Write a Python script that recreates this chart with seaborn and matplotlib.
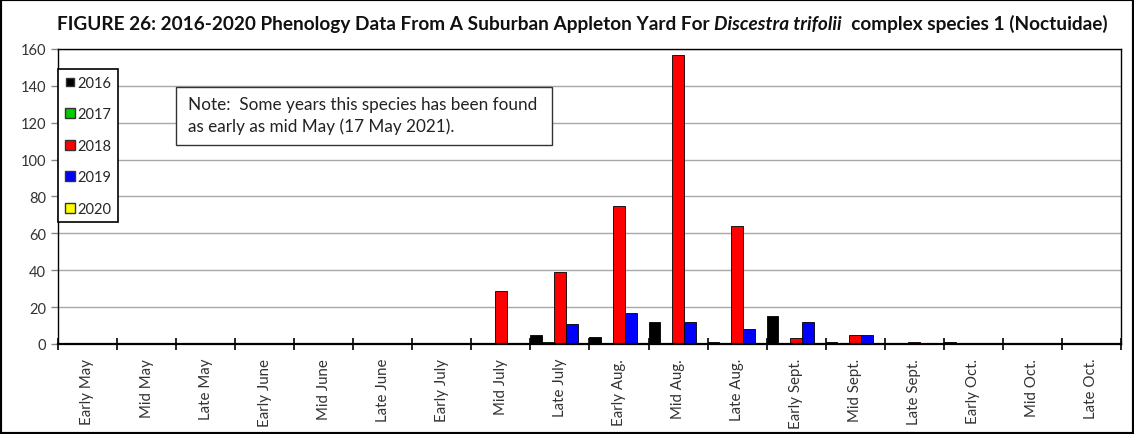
import matplotlib
matplotlib.use("Agg")
import matplotlib.pyplot as plt
import numpy as np
import pandas as pd
import seaborn as sns
from matplotlib.lines import Line2D
from matplotlib.patches import Rectangle

# ---- data ----
periods = [
    "Early May", "Mid May", "Late May", "Early June", "Mid June", "Late June",
    "Early July", "Mid July", "Late July", "Early Aug.", "Mid Aug.", "Late Aug.",
    "Early Sept.", "Mid Sept.", "Late Sept.", "Early Oct.", "Mid Oct.", "Late Oct.",
]
years = ["2016", "2017", "2018", "2019", "2020"]
counts_2016 = [0, 0, 0, 0, 0, 0, 0, 0, 5, 4, 12, 1, 15, 1, 0, 1, 0, 0]
counts_2017 = [0, 0, 0, 0, 0, 0, 0, 0, 1, 0, 0, 0, 0, 0, 0, 0, 0, 0]
counts_2018 = [0, 0, 0, 0, 0, 0, 0, 29, 39, 75, 157, 64, 3, 5, 1, 0, 0, 0]
counts_2019 = [0, 0, 0, 0, 0, 0, 0, 0, 11, 17, 12, 8, 12, 5, 0, 0, 0, 0]
counts_2020 = [0, 0, 0, 0, 0, 0, 0, 0, 0, 0, 0, 0, 0, 0, 0, 0, 0, 0]
year_colors = ["#000000", "#00cc00", "#ff0000", "#0000ff", "#ffff00"]

all_counts = [counts_2016, counts_2017, counts_2018, counts_2019, counts_2020]
df = pd.concat(
    [pd.DataFrame({"Period": periods, "Year": y, "Count": c}) for y, c in zip(years, all_counts)],
    ignore_index=True,
)

sns.set_theme(style="white")
plt.rcParams["font.family"] = ["Lato", "DejaVu Sans"]

fig = plt.figure(figsize=(11.34, 4.35), dpi=100)
ax = fig.add_axes([0.0511, 0.2069, 0.9374, 0.6782])

sns.barplot(
    data=df, x="Period", y="Count", hue="Year", order=periods, hue_order=years,
    palette=dict(zip(years, year_colors)), saturation=1, width=1.0,
    edgecolor="black", linewidth=0.6, legend=False, ax=ax,
)

ax.set_xlim(-0.5, len(periods) - 0.5)
ax.set_ylim(0, 160)
ax.set_yticks(range(0, 161, 20))
ax.set_xlabel("")
ax.set_ylabel("")
ax.yaxis.grid(True, color="#a8a8a8", linewidth=1)
ax.set_axisbelow(True)

# category labels at centres, cross ticks at the boundaries
ax.set_xticks(range(len(periods)))
ax.set_xticklabels(periods, rotation=90, fontsize=10.8, color="#333333")
ax.set_xticks(np.arange(-0.5, len(periods), 1), minor=True)
ax.tick_params(axis="x", which="major", length=0, pad=10)
ax.tick_params(axis="x", which="minor", length=8, width=1.2, direction="inout",
               color="black", bottom=True)
ax.tick_params(axis="y", length=5, width=1, direction="out", color="#888888",
               labelsize=10.5, labelcolor="#333333", left=True)

for side in ["top", "right", "left"]:
    ax.spines[side].set_color("black")
    ax.spines[side].set_linewidth(1)
ax.spines["bottom"].set_color("black")
ax.spines["bottom"].set_linewidth(1.6)

# legend with square swatches
handles = [
    Line2D([], [], marker="s", linestyle="", markersize=7.5 if y != "2016" else 5.5,
           markerfacecolor=c, markeredgecolor="#333333", label=y)
    for y, c in zip(years, year_colors)
]
leg = ax.legend(
    handles=handles, loc="upper left", bbox_to_anchor=(0.0, 0.932),
    borderaxespad=0, fontsize=10.5, labelspacing=1.2, handlelength=0.7,
    handletextpad=0.2, borderpad=0.45, frameon=True, fancybox=False,
)
leg.get_frame().set_edgecolor("black")
leg.get_frame().set_linewidth(1.2)
leg.get_frame().set_alpha(1)

# note box
ax.add_patch(Rectangle((0.111, 0.6746), 0.3537, 0.1966, transform=ax.transAxes,
                       facecolor="white", edgecolor="#333333", linewidth=1, zorder=5))
ax.text(0.1223, 0.776, "Note:  Some years this species has been found\nas early as mid May (17 May 2021).",
        transform=ax.transAxes, ha="left", va="center", fontsize=12.3, color="#222222",
        linespacing=1.45, zorder=6)

# title with italic species name
t1 = fig.text(0.05, 0.93, "FIGURE 26: 2016-2020 Phenology Data From A Suburban Appleton Yard For ",
              fontsize=13.7, fontweight="bold", va="baseline", color="#111111")
t2 = ax.annotate("Discestra trifolii", xy=(1, 0), xycoords=t1, va="bottom", ha="left",
                 fontsize=13.7, fontweight="bold", fontstyle="italic", color="#111111",
                 annotation_clip=False)
ax.annotate("  complex species 1 (Noctuidae)", xy=(1, 0), xycoords=t2, va="bottom", ha="left",
            fontsize=13.7, fontweight="bold", color="#111111", annotation_clip=False)

fig.patches.append(Rectangle((0, 0), 1, 1, transform=fig.transFigure, fill=False,
                             edgecolor="black", linewidth=3))

fig.savefig("out.png", dpi=100)
